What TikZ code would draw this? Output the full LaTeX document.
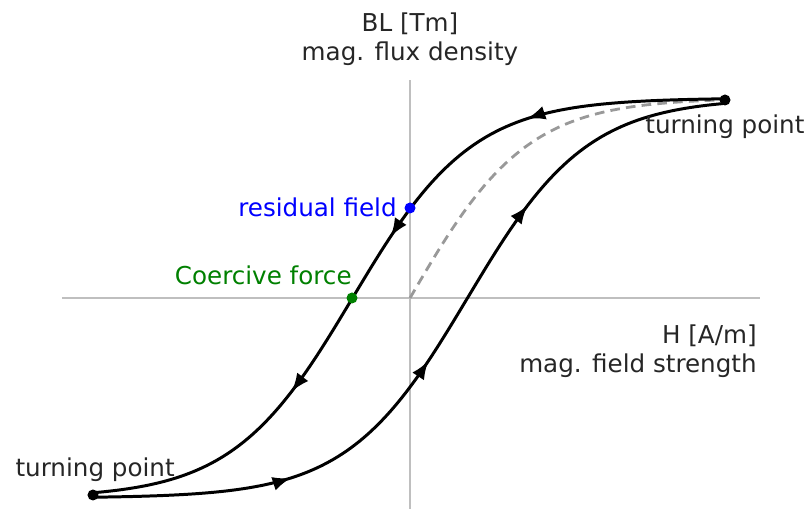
\documentclass[tikz,border=0pt]{standalone}
\usepackage{fontspec}
\setmainfont{DejaVu Sans}
\usetikzlibrary{arrows.meta,decorations.markings}
\begin{document}
\begin{tikzpicture}[x=0.02cm, y=0.02cm,
    axis/.style={draw=black!25, line width=1.1pt},
    branch/.style={draw=black, line width=1.7pt,
        postaction={decorate},
        decoration={markings,
            mark=at position 0.25 with {\arrow{Latex[length=10.5pt,width=8pt]}},
            mark=at position 0.48 with {\arrow{Latex[length=10.5pt,width=8pt]}},
            mark=at position 0.71 with {\arrow{Latex[length=10.5pt,width=8pt]}}}},
    virgin/.style={draw=black!40, line width=1.6pt, dash pattern=on 5.5pt off 3.5pt},
    label/.style={font=\fontsize{14}{16.5}\selectfont, text=black!85, inner sep=0pt}]
    \useasboundingbox (-410, -211) rectangle (400, 298);

    % Axes
    \draw[axis] (-348, 0) -- (350, 0);
    \draw[axis] (0, -211) -- (0, 218);

    % Turning points
    \coordinate (tpR) at (315, 198);
    \coordinate (tpL) at (-317, -197);

    % Initial magnetisation curve
    \draw[virgin] (0, 0) -- plot[domain=0:315, samples=60] (\x, {200*tanh(\x/117)});

    % Hysteresis loop, falling and rising branch
    \draw[branch] (tpR) -- plot[domain=312:-314, samples=120] (\x, {200*tanh((\x+57.5)/120)}) -- (tpL);
    \draw[branch] (tpL) -- plot[domain=-314:312, samples=120] (\x, {200*tanh((\x-57.5)/120)}) -- (tpR);

    % Marked points
    \fill[black] (tpR) circle (5.5);
    \fill[black] (tpL) circle (5.5);
    \fill[blue] (0, 90) coordinate (res) circle (5.5);
    \fill[green!50!black] (-58, 0) coordinate (coe) circle (5.5);

    % Labels
    \node[label, align=center] (bl) at (0, 259) {BL [Tm]\\mag. flux density};
    \node[label, align=right, anchor=north east] (hfield) at (347, -26) {H [A/m]\\mag. field strength};
    \node[label, anchor=west] (tpRlabel) at (235, 171) {turning point};
    \node[label, anchor=east] (tpLlabel) at (-235, -172) {turning point};
    \node[label, anchor=east, text=blue] (reslabel) at (-13, 91) {residual field};
    \node[label, anchor=east, text=green!50!black] (coelabel) at (-58, 23) {Coercive force};
\end{tikzpicture}
\end{document}
